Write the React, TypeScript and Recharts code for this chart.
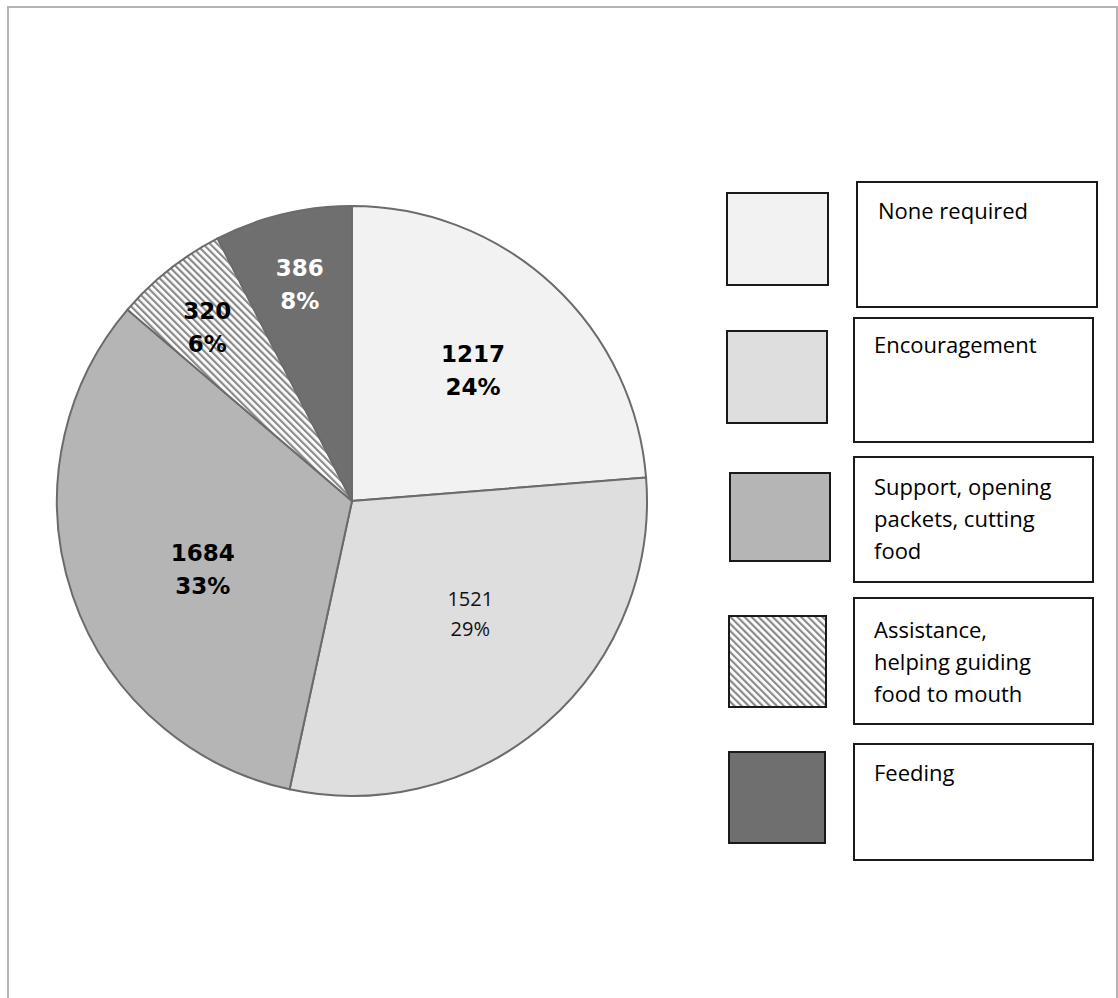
import React from "react";
import { PieChart, Pie, Cell, Legend } from "recharts";

const categories = [
  "None required",
  "Encouragement",
  "Support, opening packets, cutting food",
  "Assistance, helping guiding food to mouth",
  "Feeding",
];
const values = [1217, 1521, 1684, 320, 386];
const percentLabels = ["24%", "29%", "33%", "6%", "8%"];

// legend text broken into lines as in the reference
const legendLines = [
  ["None required"],
  ["Encouragement"],
  ["Support, opening", "packets, cutting", "food"],
  ["Assistance,", "helping guiding", "food to mouth"],
  ["Feeding"],
];

const colors = ["#f2f2f2", "#dedede", "#b5b5b5", "url(#hatch)", "#6f6f6f"];
const legendColors = ["#f2f2f2", "#dedede", "#b5b5b5", "url(#hatchL)", "#6f6f6f"];

// label styling per slice
const labelRadius = [0.605, 0.553, 0.556, 0.766, 0.755];
const labelAngleShift = [0, -5.3, -5.8, -1.5, 0]; // clockwise degrees
const labelBold = [true, false, true, true, true];
const labelColor = ["#000", "#111", "#000", "#000", "#fff"];

// legend layout (relative to legend wrapper at x=720)
const swatchBoxes = [
  { x: 7, y: 193, w: 101, h: 92 },
  { x: 7, y: 331, w: 100, h: 92 },
  { x: 10, y: 473, w: 100, h: 88 },
  { x: 9, y: 616, w: 97, h: 91 },
  { x: 9, y: 752, w: 96, h: 91 },
];
const textBoxes = [
  { x: 137, y: 182, w: 240, h: 125, tx: 158, ty: 219 },
  { x: 134, y: 318, w: 239, h: 124, tx: 154, ty: 353 },
  { x: 134, y: 457, w: 239, h: 125, tx: 154, ty: 495 },
  { x: 134, y: 598, w: 239, h: 126, tx: 154, ty: 638 },
  { x: 134, y: 744, w: 239, h: 116, tx: 154, ty: 781 },
];

const data = categories.map((name, i) => ({ name, value: values[i], fill: colors[i] }));

const RAD = Math.PI / 180;

const renderLabel = (props: any) => {
  const { cx, cy, midAngle, outerRadius, index } = props;
  const r = outerRadius * labelRadius[index];
  const ang = midAngle - labelAngleShift[index];
  const x = cx + r * Math.cos(-ang * RAD);
  const y = cy + r * Math.sin(-ang * RAD);
  const bold = labelBold[index];
  const fontFamily = bold ? "DejaVu Sans" : "Open Sans";
  const fontSize = bold ? 23 : 20;
  const gap = bold ? 33 : 30;
  return (
    <text
      x={x}
      y={y}
      textAnchor="middle"
      fill={labelColor[index]}
      fontFamily={fontFamily}
      fontWeight={bold ? 700 : 400}
      fontSize={fontSize}
    >
      <tspan x={x} y={y - gap / 2 + fontSize * 0.36}>
        {values[index]}
      </tspan>
      <tspan x={x} y={y + gap / 2 + fontSize * 0.36}>
        {percentLabels[index]}
      </tspan>
    </text>
  );
};

const LegendContent = (props: any) => {
  const payload = props.payload || [];
  const names = payload.length ? payload.map((p: any) => p.value) : categories;
  return (
    <svg width={398} height={998} style={{ display: "block" }}>
      <defs>
        <pattern
          id="hatchL"
          patternUnits="userSpaceOnUse"
          width={5}
          height={5}
          patternTransform="rotate(-45)"
        >
          <rect width={5} height={5} fill="#ffffff" />
          <rect width={2.2} height={5} fill="#8a8a8a" />
        </pattern>
      </defs>
      {names.map((name: string, idx: number) => {
        const i = Math.max(0, categories.indexOf(name));
        const s = swatchBoxes[i];
        const t = textBoxes[i];
        return (
          <g key={name + idx}>
            <rect
              x={s.x}
              y={s.y}
              width={s.w}
              height={s.h}
              fill={legendColors[i]}
              stroke="#1a1a1a"
              strokeWidth={2}
            />
            <rect
              x={t.x}
              y={t.y}
              width={t.w}
              height={t.h}
              fill="#ffffff"
              stroke="#1a1a1a"
              strokeWidth={2}
            />
            <text x={t.tx} y={t.ty} fontFamily="Open Sans" fontSize={22} fill="#000">
              {legendLines[i].map((line, j) => (
                <tspan key={j} x={t.tx} y={t.ty + j * 32}>
                  {line}
                </tspan>
              ))}
            </text>
          </g>
        );
      })}
    </svg>
  );
};

export default function App() {
  return (
    <div
      style={{
        position: "absolute",
        left: 0,
        top: 0,
        width: 1118,
        height: 998,
        overflow: "hidden",
        background: "#ffffff",
      }}
    >
      <div
        style={{
          position: "absolute",
          left: 7,
          top: 6,
          width: 1107,
          height: 1010,
          border: "2px solid #b3b3b3",
          borderBottom: "none",
        }}
      />
      <div style={{ position: "absolute", left: 0, top: 0 }}>
        <PieChart width={1118} height={998} margin={{ top: 0, right: 0, bottom: 0, left: 0 }}>
          <defs>
            <pattern
              id="hatch"
              patternUnits="userSpaceOnUse"
              width={5}
              height={5}
              patternTransform="rotate(-45)"
            >
              <rect width={5} height={5} fill="#ffffff" />
              <rect width={2.2} height={5} fill="#8a8a8a" />
            </pattern>
          </defs>
          <Pie
            data={data}
            dataKey="value"
            nameKey="name"
            cx={352}
            cy={501}
            outerRadius={295}
            startAngle={90}
            endAngle={-270}
            stroke="#6b6b6b"
            strokeWidth={2}
            label={renderLabel}
            labelLine={false}
            isAnimationActive={false}
          >
            {data.map((d, i) => (
              <Cell key={d.name} fill={colors[i]} />
            ))}
          </Pie>
          <Legend
            layout="vertical"
            align="right"
            verticalAlign="top"
            content={<LegendContent />}
            wrapperStyle={{ position: "absolute", left: 720, top: 0, width: 398, height: 998 }}
          />
        </PieChart>
      </div>
    </div>
  );
}
